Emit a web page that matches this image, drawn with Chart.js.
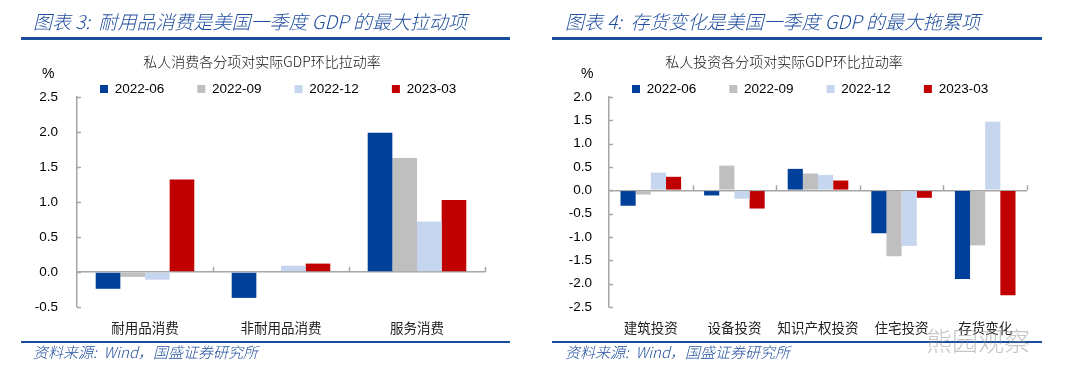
<!DOCTYPE html>
<html>
<head>
<meta charset="utf-8">
<script src="https://cdn.jsdelivr.net/npm/chart.js@4/dist/chart.umd.min.js"></script>
<style>
  html, body { margin: 0; padding: 0; background: #fff; }
  body { width: 1080px; height: 387px; position: relative; overflow: hidden; font-family: "Liberation Sans", Arial, sans-serif; }
  canvas { position: absolute; top: 0; }
  .txt { position: absolute; white-space: nowrap; }
  .title { font-family: "Noto Sans CJK SC", sans-serif; font-style: italic; font-weight: 300; font-size: 19px; color: #1f4e9e; height: 24px; line-height: 24px; }
  .rule { position: absolute; height: 3px; background: #1a4d9c; }
  .sub { font-family: "Noto Sans CJK SC", sans-serif; font-weight: 300; font-size: 14px; color: #111; height: 18px; line-height: 18px; transform: translateX(-50%); }
  .unit { font-size: 14px; color: #000; height: 18px; line-height: 18px; }
  .source { font-family: "Noto Sans CJK SC", sans-serif; font-style: italic; font-weight: 300; font-size: 15px; color: #1f4e9e; height: 20px; line-height: 20px; }
  .mark { font-family: "Noto Sans CJK SC", sans-serif; font-weight: 300; font-size: 26px; color: rgba(140,140,140,0.5); height: 30px; line-height: 30px; }
</style>
</head>
<body>
<canvas id="consumptionChart" width="540" height="387" style="left:0"></canvas>
<canvas id="investmentChart" width="540" height="387" style="left:540px"></canvas>

<div class="txt title" style="left:33px; top:9px;">图表 3:&nbsp; 耐用品消费是美国一季度 GDP 的最大拉动项</div>
<div class="rule" style="left:21px; width:489px; top:37px;"></div>
<div class="txt sub" style="left:262px; top:52px;">私人消费各分项对实际GDP环比拉动率</div>
<div class="txt unit" style="left:42px; top:64px;">%</div>
<div class="rule" style="left:21px; width:489px; top:341px; height:2px;"></div>
<div class="txt source" style="left:33px; top:342px;">资料来源:&nbsp; Wind，国盛证券研究所</div>

<div class="txt title" style="left:565px; top:9px;">图表 4:&nbsp; 存货变化是美国一季度 GDP 的最大拖累项</div>
<div class="rule" style="left:552px; width:490px; top:37px;"></div>
<div class="txt sub" style="left:784px; top:52px;">私人投资各分项对实际GDP环比拉动率</div>
<div class="txt unit" style="left:581px; top:64px;">%</div>
<div class="rule" style="left:552px; width:490px; top:341px; height:2px;"></div>
<div class="txt source" style="left:565px; top:342px;">资料来源:&nbsp; Wind，国盛证券研究所</div>
<div class="txt mark" style="left:926px; top:325px;">熊园观察</div>

<script>
// series / categories
const seriesLabels = ['2022-06', '2022-09', '2022-12', '2023-03'];
const seriesColors = ['#00409a', '#bfbfbf', '#c5d6ee', '#c00000'];

const consumptionCategories = ['耐用品消费', '非耐用品消费', '服务消费'];
const consumptionJun22 = [-0.24, -0.37, 1.99];
const consumptionSep22 = [-0.07, 0.0, 1.63];
const consumptionDec22 = [-0.11, 0.09, 0.72];
const consumptionMar23 = [1.32, 0.12, 1.03];
const consumptionTicks = [-0.5, 2.5, 0.5]; // min, max, step

const investmentCategories = ['建筑投资', '设备投资', '知识产权投资', '住宅投资', '存货变化'];
const investmentJun22 = [-0.33, -0.11, 0.46, -0.92, -1.90];
const investmentSep22 = [-0.09, 0.53, 0.36, -1.41, -1.18];
const investmentDec22 = [0.38, -0.18, 0.33, -1.19, 1.47];
const investmentMar23 = [0.29, -0.39, 0.21, -0.16, -2.25];
const investmentTicks = [-2.5, 2.0, 0.5];

const axisGray = '#a6a6a6';

// small inside ticks on both axes, like the excel original
const innerTicks = {
  id: 'innerTicks',
  afterDraw(chart) {
    const { ctx, chartArea } = chart;
    const x = chart.scales.x;
    const y = chart.scales.y;
    const zero = y.getPixelForValue(0);
    ctx.save();
    ctx.strokeStyle = axisGray;
    ctx.lineWidth = 1.5;
    ctx.beginPath();
    y.ticks.forEach((t) => {
      const py = Math.round(y.getPixelForValue(t.value)) + 0.5;
      ctx.moveTo(chartArea.left, py);
      ctx.lineTo(chartArea.left + 4, py);
    });
    const n = x.ticks.length;
    const half = (x.getPixelForTick(1) - x.getPixelForTick(0)) / 2;
    for (let i = 0; i < n; i++) {
      const px = Math.round(x.getPixelForTick(i) + half) + 0.5;
      ctx.moveTo(px, zero);
      ctx.lineTo(px, zero - 5);
    }
    ctx.stroke();
    ctx.restore();
  }
};

// put the legend where the original has it
const placeLegend = {
  id: 'placeLegend',
  afterLayout(chart, args, opts) {
    const lg = chart.legend;
    if (!lg) return;
    const pad = lg.options.labels.padding;
    const size = lg.options.labels.font.size;
    const h = lg.height;
    lg.top = opts.centerY - pad - size / 2;
    lg.bottom = lg.top + h;
    lg.left = opts.firstBox - pad;
  }
};

function makeChart(id, categories, series, ticks, axisWidth, rightPad, tickPad, firstBox) {
  const ctx = document.getElementById(id).getContext('2d');
  return new Chart(ctx, {
    type: 'bar',
    data: {
      labels: categories,
      datasets: series.map((data, i) => ({
        label: seriesLabels[i],
        data: data,
        yAxisID: 'y',
        backgroundColor: seriesColors[i],
        borderWidth: 0,
        categoryPercentage: 0.725,
        barPercentage: 1.0
      }))
    },
    options: {
      responsive: false,
      animation: false,
      layout: { padding: { left: 0, right: 0, top: 40.5, bottom: 0 } },
      plugins: {
        legend: {
          position: 'top',
          align: 'start',
          labels: {
            boxWidth: 8,
            boxHeight: 8,
            padding: 33,
            color: '#000',
            font: { family: '"Liberation Sans", Arial, sans-serif', size: 13.5 }
          }
        },
        tooltip: { enabled: false },
        placeLegend: { centerY: 89, firstBox: firstBox }
      },
      scales: {
        x: {
          grid: { display: false, drawTicks: false },
          border: { display: false },
          ticks: {
            padding: 13,
            color: '#222',
            autoSkip: false,
            maxRotation: 0,
            minRotation: 0,
            font: { family: '"Noto Sans CJK SC", sans-serif', size: 13.5 }
          },
          afterFit: (s) => { s.height = 80; }
        },
        y: {
          min: ticks[0],
          max: ticks[1],
          grid: {
            drawTicks: false,
            lineWidth: 1.5,
            color: (c) => (c.tick && c.tick.value === 0 ? axisGray : 'rgba(0,0,0,0)')
          },
          border: { display: true, color: axisGray, width: 1.5 },
          ticks: {
            stepSize: ticks[2],
            padding: tickPad,
            color: '#000',
            font: { family: '"Liberation Sans", Arial, sans-serif', size: 13.5 },
            callback: (v) => Number(v).toFixed(1)
          },
          afterFit: (s) => { s.width = axisWidth; }
        },
        // empty right-hand spacer so the legend keeps the full width
        spacer: {
          type: 'linear',
          position: 'right',
          grid: { display: false, drawTicks: false },
          border: { display: false },
          ticks: { display: false },
          afterFit: (s) => { s.width = rightPad; }
        }
      }
    },
    plugins: [innerTicks, placeLegend]
  });
}

document.addEventListener('DOMContentLoaded', () => {
  makeChart('consumptionChart', consumptionCategories,
    [consumptionJun22, consumptionSep22, consumptionDec22, consumptionMar23],
    consumptionTicks, 77, 55, 19, 100);
  makeChart('investmentChart', investmentCategories,
    [investmentJun22, investmentSep22, investmentDec22, investmentMar23],
    investmentTicks, 69, 53, 17, 92);
});
</script>
</body>
</html>
